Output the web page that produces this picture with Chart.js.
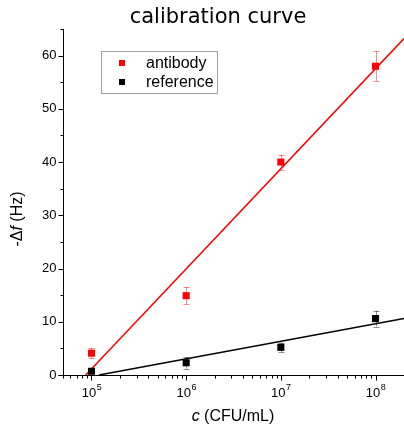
<!DOCTYPE html>
<html>
<head>
<meta charset="utf-8">
<script src="https://cdn.jsdelivr.net/npm/chart.js@4/dist/chart.umd.min.js"></script>
<style>
  html, body { margin: 0; padding: 0; background: #fff; }
  #wrap { width: 404px; height: 426px; }
</style>
</head>
<body>
<div id="wrap"><canvas id="calChart"></canvas></div>
<script>
// concentrations (CFU/mL) and measured -Δf (Hz)
const concentrations = [1e5, 1e6, 1e7, 1e8];
const antibodyValues = [4.1, 14.9, 40.0, 58.0];
const antibodyErrors = [1.0, 1.6, 1.4, 2.8];
const referenceValues = [0.7, 2.3, 5.2, 10.6];
const referenceErrors = [0.4, 1.1, 0.9, 1.5];

// fitted lines, endpoints
const antibodyFitX = [8.7e4, 2e8];
const antibodyFitY = [0, 63.2];
const referenceFitX = [1.2e5, 2e8];
const referenceFitY = [0, 10.6];

// axes
const yMajorTicks = [0, 10, 20, 30, 40, 50, 60];
const yMinorTicks = [5, 15, 25, 35, 45, 55, 65];
const xDecades = [4, 5, 6, 7, 8];
const xLabelExponents = [5, 6, 7, 8];

const RED = '#ff0000';
const BLACK = '#000000';
const SANS = '"Liberation Sans", Arial, sans-serif';

const toPoints = (xs, ys) => xs.map((x, i) => ({ x, y: ys[i] }));

const errorBars = {
  id: 'errorBars',
  beforeDatasetsDraw(chart) {
    const { ctx, scales: { x, y } } = chart;
    chart.data.datasets.forEach(ds => {
      if (!ds.errors) return;
      ctx.save();
      ctx.strokeStyle = ds.errorColor;
      ctx.lineWidth = 1;
      ds.data.forEach((p, i) => {
        const px = Math.round(x.getPixelForValue(p.x)) + 0.5;
        const top = y.getPixelForValue(p.y + ds.errors[i]);
        const bot = y.getPixelForValue(p.y - ds.errors[i]);
        ctx.beginPath();
        ctx.moveTo(px, top); ctx.lineTo(px, bot);
        ctx.moveTo(px - 3, Math.round(top) + 0.5); ctx.lineTo(px + 3, Math.round(top) + 0.5);
        ctx.moveTo(px - 3, Math.round(bot) + 0.5); ctx.lineTo(px + 3, Math.round(bot) + 0.5);
        ctx.stroke();
      });
      ctx.restore();
    });
  }
};

function drawMixed(ctx, parts, cx, cy) {
  let total = 0;
  parts.forEach(p => { ctx.font = p.font; p.w = ctx.measureText(p.text).width; total += p.w; });
  let xx = cx - total / 2;
  parts.forEach(p => { ctx.font = p.font; ctx.fillText(p.text, xx, cy); xx += p.w; });
}

const decorations = {
  id: 'decorations',
  afterDraw(chart) {
    const { ctx, chartArea: a, scales: { x, y } } = chart;
    ctx.save();
    ctx.strokeStyle = BLACK;
    ctx.fillStyle = BLACK;
    ctx.lineWidth = 1;

    const left = Math.round(a.left) + 0.5;
    const bottom = Math.round(a.bottom) + 0.5;

    // axis lines
    ctx.beginPath();
    ctx.moveTo(left, Math.round(a.top));
    ctx.lineTo(left, bottom);
    ctx.moveTo(left - 5, bottom);
    ctx.lineTo(a.right, bottom);
    ctx.stroke();

    // y ticks
    ctx.beginPath();
    yMajorTicks.forEach(v => {
      const py = Math.round(y.getPixelForValue(v)) + 0.5;
      ctx.moveTo(left - 5, py); ctx.lineTo(left, py);
    });
    yMinorTicks.forEach(v => {
      const py = Math.round(y.getPixelForValue(v)) + 0.5;
      ctx.moveTo(left - 3, py); ctx.lineTo(left, py);
    });
    // x ticks (log)
    xDecades.forEach(e => {
      for (let m = 1; m <= 9; m++) {
        const v = m * Math.pow(10, e);
        if (v < x.min || v > x.max) continue;
        const px = Math.round(x.getPixelForValue(v)) + 0.5;
        ctx.moveTo(px, bottom); ctx.lineTo(px, bottom + (m === 1 ? 5 : 3));
      }
    });
    ctx.stroke();

    // y tick labels
    ctx.font = '13px ' + SANS;
    ctx.textAlign = 'right';
    ctx.textBaseline = 'middle';
    yMajorTicks.forEach(v => ctx.fillText(String(v), left - 7, y.getPixelForValue(v)));

    // x tick labels 10^n
    ctx.textAlign = 'left';
    ctx.textBaseline = 'alphabetic';
    xLabelExponents.forEach(e => {
      const px = x.getPixelForValue(Math.pow(10, e));
      ctx.font = '13px ' + SANS;
      const wb = ctx.measureText('10').width;
      ctx.font = '9px ' + SANS;
      const we = ctx.measureText(String(e)).width;
      const x0 = px - (wb + we) / 2;
      ctx.font = '13px ' + SANS;
      ctx.fillText('10', x0, bottom + 21);
      ctx.font = '9px ' + SANS;
      ctx.fillText(String(e), x0 + wb + 0.5, bottom + 14);
    });

    // axis titles
    ctx.textBaseline = 'alphabetic';
    drawMixed(ctx, [
      { text: 'c', font: 'italic 16px ' + SANS },
      { text: ' (CFU/mL)', font: '16px ' + SANS }
    ], 233, 421);

    ctx.save();
    ctx.translate(22, 219);
    ctx.rotate(-Math.PI / 2);
    drawMixed(ctx, [
      { text: '-\u0394', font: '16px ' + SANS },
      { text: 'f', font: 'italic 16px ' + SANS },
      { text: ' (Hz)', font: '16px ' + SANS }
    ], 0, 0);
    ctx.restore();

    // title
    ctx.font = '21px "DejaVu Sans", sans-serif';
    ctx.textAlign = 'center';
    ctx.fillText('calibration curve', 218, 23);

    // legend
    ctx.strokeStyle = '#a0a0a0';
    ctx.strokeRect(101.5, 51.5, 116, 42);
    ctx.textAlign = 'left';
    ctx.textBaseline = 'alphabetic';
    ctx.font = '16px ' + SANS;
    const legendRows = [
      { label: chart.data.datasets[0].label, color: RED, y: 63 },
      { label: chart.data.datasets[1].label, color: BLACK, y: 82 }
    ];
    legendRows.forEach(r => {
      ctx.fillStyle = r.color;
      ctx.fillRect(119, r.y - 3, 6, 6);
      ctx.fillStyle = BLACK;
      ctx.fillText(r.label, 146, r.y + 5);
    });
    ctx.restore();
  }
};

new Chart(document.getElementById('calChart'), {
  type: 'scatter',
  data: {
    datasets: [
      {
        label: 'antibody',
        data: toPoints(concentrations, antibodyValues),
        errors: antibodyErrors,
        errorColor: 'rgba(255,0,0,0.45)',
        backgroundColor: RED,
        pointStyle: 'rect',
        pointRadius: 5,
        borderWidth: 0,
        order: 1
      },
      {
        label: 'reference',
        data: toPoints(concentrations, referenceValues),
        errors: referenceErrors,
        errorColor: 'rgba(0,0,0,0.45)',
        backgroundColor: BLACK,
        pointStyle: 'rect',
        pointRadius: 5,
        borderWidth: 0,
        order: 1
      },
      {
        type: 'line',
        data: toPoints(antibodyFitX, antibodyFitY),
        borderColor: RED,
        borderWidth: 1.5,
        pointRadius: 0,
        fill: false,
        order: 2
      },
      {
        type: 'line',
        data: toPoints(referenceFitX, referenceFitY),
        borderColor: BLACK,
        borderWidth: 1.5,
        pointRadius: 0,
        fill: false,
        order: 2
      }
    ]
  },
  options: {
    responsive: true,
    maintainAspectRatio: false,
    animation: false,
    layout: { autoPadding: false, padding: { left: 63, top: 29, right: 0, bottom: 51 } },
    plugins: {
      legend: { display: false },
      tooltip: { enabled: false },
      title: { display: false }
    },
    scales: {
      x: {
        type: 'logarithmic',
        display: false,
        min: 5e4,
        max: 2e8
      },
      y: {
        display: false,
        min: 0,
        max: 65
      }
    }
  },
  plugins: [errorBars, decorations]
});
</script>
</body>
</html>
